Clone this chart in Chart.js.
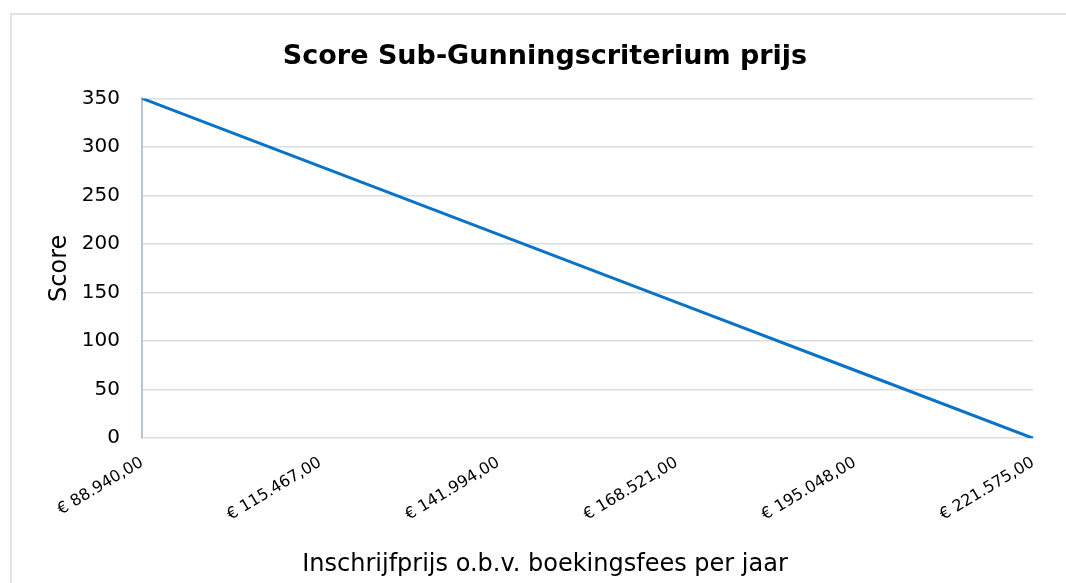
<!DOCTYPE html>
<html>
<head>
<meta charset="utf-8">
<script src="https://cdn.jsdelivr.net/npm/chart.js@4/dist/chart.umd.min.js"></script>
<style>
  html, body { margin: 0; padding: 0; background: #ffffff; overflow: hidden; }
  #wrap { position: relative; width: 1066px; height: 583px; }
  canvas { display: block; }
</style>
</head>
<body>
<div id="wrap"><canvas id="c" width="1066" height="583"></canvas></div>
<script>
const chartTitle = "Score Sub-Gunningscriterium prijs";
const xAxisTitle = "Inschrijfprijs o.b.v. boekingsfees per jaar";
const yAxisTitle = "Score";
const priceLabels = ["€ 88.940,00", "€ 115.467,00", "€ 141.994,00", "€ 168.521,00", "€ 195.048,00", "€ 221.575,00"];
const scores = [350, 280, 210, 140, 70, 0];
const yTicks = [0, 50, 100, 150, 200, 250, 300, 350];

const framePlugin = {
  id: 'frame',
  beforeDraw(chart) {
    const ctx = chart.ctx;
    ctx.save();
    ctx.fillStyle = '#ffffff';
    ctx.fillRect(0, 0, chart.width, chart.height);
    ctx.strokeStyle = '#dfe3e9';
    ctx.lineWidth = 2;
    ctx.beginPath();
    ctx.moveTo(11, chart.height + 2);
    ctx.lineTo(11, 14);
    ctx.lineTo(chart.width + 2, 14);
    ctx.stroke();
    ctx.restore();
  }
};

new Chart(document.getElementById('c'), {
  type: 'line',
  data: {
    labels: priceLabels,
    datasets: [{
      data: scores,
      borderColor: '#0b72c6',
      borderWidth: 3,
      pointRadius: 0,
      tension: 0,
      fill: false
    }]
  },
  options: {
    responsive: false,
    animation: false,
    layout: { padding: { top: 14, left: 57, right: 33, bottom: 0 } },
    plugins: {
      legend: { display: false },
      tooltip: { enabled: false },
      title: {
        display: true,
        text: chartTitle,
        color: '#000000',
        font: { family: 'DejaVu Sans', size: 27, weight: 'bold' },
        padding: { top: 27, bottom: 25 }
      },
      subtitle: {
        display: true,
        position: 'bottom',
        text: xAxisTitle,
        color: '#000000',
        font: { family: 'DejaVu Sans', size: 24, weight: 'normal' },
        padding: { top: 4, bottom: 4 }
      }
    },
    scales: {
      x: {
        type: 'category',
        offset: false,
        grid: { display: false },
        border: { display: false },
        ticks: {
          color: '#000000',
          font: { family: 'DejaVu Sans', size: 16 },
          minRotation: 31,
          maxRotation: 31,
          autoSkip: false,
          padding: 7
        },
        afterFit(scale) { scale.height = 108; }
      },
      y: {
        min: 0,
        max: 350,
        afterBuildTicks(scale) { scale.ticks = yTicks.map(v => ({ value: v })); },
        grid: { color: '#d9dee5', lineWidth: 1.5, drawTicks: false },
        border: { display: true, color: '#b8c4d4', width: 2 },
        ticks: {
          color: '#000000',
          font: { family: 'DejaVu Sans', size: 20 },
          padding: 22
        },
        title: {
          display: true,
          text: yAxisTitle,
          color: '#000000',
          font: { family: 'DejaVu Sans', size: 24 },
          padding: { top: -12, bottom: 0 }
        },
        afterFit(scale) { scale.width = 85; }
      }
    }
  },
  plugins: [framePlugin]
});
</script>
</body>
</html>
